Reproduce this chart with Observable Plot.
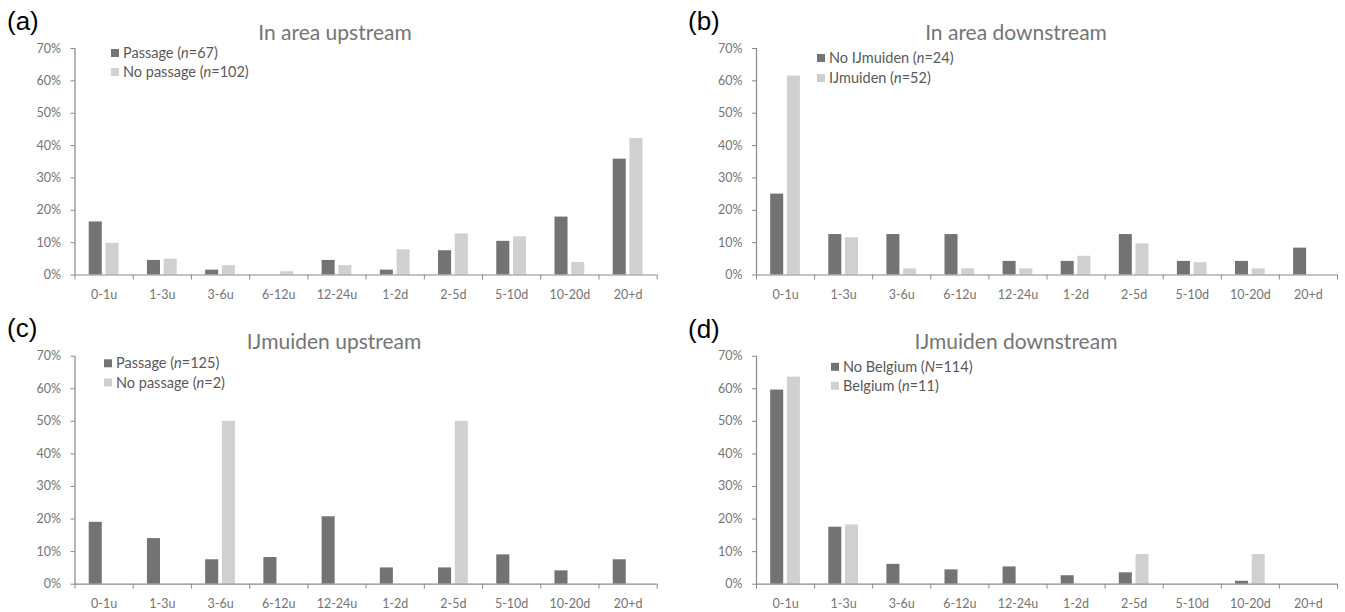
<!DOCTYPE html>
<html>
<head>
<meta charset="utf-8">
<script src="https://cdn.jsdelivr.net/npm/d3@7"></script>
<script src="https://cdn.jsdelivr.net/npm/@observablehq/plot@0.6"></script>
<style>
  html, body { margin: 0; padding: 0; background: #fff; }
  #root { position: relative; width: 1345px; height: 612px; overflow: hidden; background: #fff; }
  .panel { position: absolute; }
  #overlay { position: absolute; left: 0; top: 0; pointer-events: none; }
</style>
</head>
<body>
<div id="root"></div>
<script>
// ---------- data ----------
const categories = ["0-1u", "1-3u", "3-6u", "6-12u", "12-24u", "1-2d", "2-5d", "5-10d", "10-20d", "20+d"];
const yTicks = [0, 10, 20, 30, 40, 50, 60, 70];

const panelLetters = ["(a)", "(b)", "(c)", "(d)"];
const panelTitles = ["In area upstream", "In area downstream", "IJmuiden upstream", "IJmuiden downstream"];
const legendA = ["Passage (n=67)", "No passage (n=102)"];
const legendB = ["No IJmuiden (n=24)", "IJmuiden (n=52)"];
const legendC = ["Passage (n=125)", "No passage (n=2)"];
const legendD = ["No Belgium (N=114)", "Belgium (n=11)"];

// percentages per category
const aPassage   = [16.4, 4.5, 1.5, 0.0, 4.5, 1.5, 7.5, 10.4, 17.9, 35.8];
const aNoPassage = [9.8, 4.9, 2.9, 1.0, 2.9, 7.8, 12.7, 11.8, 3.9, 42.2];
const bNoIJmuiden = [25.0, 12.5, 12.5, 12.5, 4.2, 4.2, 12.5, 4.2, 4.2, 8.3];
const bIJmuiden   = [61.5, 11.5, 1.9, 1.9, 1.9, 5.8, 9.6, 3.8, 1.9, 0.0];
const cPassage   = [19.0, 14.0, 7.5, 8.2, 20.7, 5.0, 5.0, 9.0, 4.1, 7.5];
const cNoPassage = [0, 0, 50.0, 0, 0, 0, 50.0, 0, 0, 0];
const dNoBelgium = [59.6, 17.5, 6.1, 4.4, 5.3, 2.6, 3.5, 0.0, 0.9, 0.0];
const dBelgium   = [63.6, 18.2, 0, 0, 0, 0, 9.1, 0, 9.1, 0];

// ---------- styles ----------
const DARK = "#737373", LIGHT = "#d0d0d0", AXIS = "#898989", TICKTXT = "#757575";

const panels = [
  {series: [aPassage, aNoPassage], legend: legendA, left: 0,   top: 0,   width: 672, height: 300, ml: 74.5, mr: 15.3, mt: 48, mb: 25.5,
   letter: [7, 30], title: [335, 40], leg: [111, 53, 72]},
  {series: [bNoIJmuiden, bIJmuiden], legend: legendB, left: 672, top: 0,   width: 673, height: 300, ml: 84, mr: 8, mt: 48, mb: 25.5,
   letter: [688, 30], title: [1016, 40], leg: [817, 58, 78]},
  {series: [cPassage, cNoPassage], legend: legendC, left: 0,   top: 300, width: 672, height: 312, ml: 74.5, mr: 15.3, mt: 55.7, mb: 28.3,
   letter: [7, 337], title: [334, 349], leg: [104, 363.3, 382.5]},
  {series: [dNoBelgium, dBelgium], legend: legendD, left: 672, top: 300, width: 673, height: 312, ml: 84, mr: 8, mt: 55.7, mb: 28.3,
   letter: [688, 338], title: [1016, 349], leg: [831, 366.8, 385.8]}
];

const root = document.getElementById("root");

panels.forEach((p, k) => {
  const rows = categories.flatMap((c, i) => [
    {cat: c, s: "A", v: p.series[0][i]},
    {cat: c, s: "B", v: p.series[1][i]}
  ]);
  const step = (p.width - p.ml - p.mr) / categories.length;
  const chart = Plot.plot({
    width: p.width, height: p.height,
    marginLeft: p.ml, marginRight: p.mr, marginTop: p.mt, marginBottom: p.mb,
    style: {fontFamily: "Lato", fontSize: "12.5px", color: TICKTXT, background: "transparent", overflow: "visible"},
    fx: {domain: categories, padding: 0, round: false, label: null, axis: null},
    x: {domain: ["A", "B"], paddingInner: 0.22, paddingOuter: 0.85, round: false, axis: null},
    y: {domain: [0, 70], axis: null},
    color: {domain: ["A", "B"], range: [DARK, LIGHT]},
    marks: [
      Plot.barY(rows, {fx: "cat", x: "s", y: "v", fill: "s"}),
      Plot.ruleY([0], {stroke: AXIS, strokeWidth: 1.2}),
      Plot.gridFx({ticks: [categories[0]], dx: -step / 2, stroke: AXIS, strokeOpacity: 1, strokeWidth: 1.2}),
      Plot.axisY({ticks: yTicks, tickFormat: d => d + "%", tickSize: 4, tickPadding: 10, stroke: AXIS, fill: TICKTXT, label: null}),
      Plot.axisFx({anchor: "bottom", tickSize: 0, tickPadding: 15, label: null, fill: TICKTXT}),
      Plot.axisFx({anchor: "bottom", tickSize: 5, tickFormat: () => "", dx: -step / 2, stroke: AXIS, label: null}),
      Plot.axisFx({anchor: "bottom", ticks: [categories[categories.length - 1]], tickSize: 5, tickFormat: () => "", dx: step / 2, stroke: AXIS, label: null})
    ]
  });
  const div = document.createElement("div");
  div.className = "panel";
  div.style.left = p.left + "px";
  div.style.top = p.top + "px";
  div.appendChild(chart);
  root.appendChild(div);
});

// ---------- overlay text: letters, titles, legends ----------
const svg = d3.select(root).append("svg")
  .attr("id", "overlay")
  .attr("width", 1345).attr("height", 612);

panels.forEach((p, k) => {
  svg.append("text")
    .attr("x", p.letter[0]).attr("y", p.letter[1])
    .attr("font-family", "Liberation Sans, Arial, sans-serif")
    .attr("font-size", 26).attr("fill", "#000")
    .text(panelLetters[k]);
  svg.append("text")
    .attr("x", p.title[0]).attr("y", p.title[1])
    .attr("text-anchor", "middle")
    .attr("font-family", "Lato").attr("font-size", 21).attr("fill", TICKTXT)
    .text(panelTitles[k]);
  p.legend.forEach((label, j) => {
    const cy = p.leg[1 + j];
    svg.append("rect")
      .attr("x", p.leg[0]).attr("y", cy - 4)
      .attr("width", 8).attr("height", 8)
      .attr("fill", j === 0 ? DARK : LIGHT);
    const t = svg.append("text")
      .attr("x", p.leg[0] + 12).attr("y", cy)
      .attr("dy", "0.35em")
      .attr("font-family", "Lato").attr("font-size", 14.5).attr("fill", "#595959");
    const m = label.match(/^(.*\()([nN])(=.*)$/);
    t.append("tspan").text(m[1]);
    t.append("tspan").attr("font-style", "italic").text(m[2]);
    t.append("tspan").text(m[3]);
  });
});
</script>
</body>
</html>
